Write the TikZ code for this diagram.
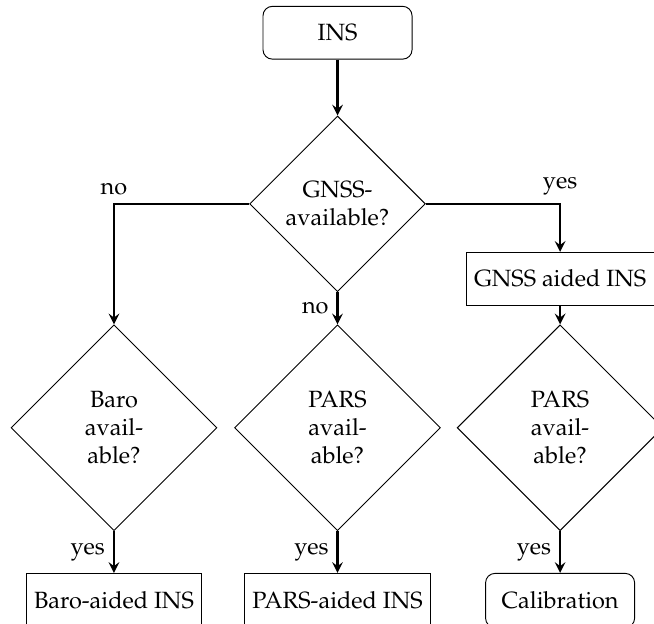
\documentclass[tikz,border=0pt]{standalone}
\usepackage[T1]{fontenc}
\usepackage{mathpazo}
\usetikzlibrary{shapes.geometric}
\begin{document}
\begin{tikzpicture}[
    startstop/.style={draw,rounded corners=4pt,minimum width=2.23cm,minimum height=0.79cm},
    process/.style={draw,minimum height=0.79cm},
    decision/.style={draw,diamond,aspect=1,inner sep=0pt,align=center},
    flow/.style={line width=1pt,-stealth}]
    \useasboundingbox (0,0) rectangle (9.785,-9.335);
    \node[startstop] (ins) at (5.05,-0.49) {INS};
    \node[decision,minimum size=2.63cm] (gnss) at (5.05,-3.05) {GNSS-\\available?};
    \node[process,minimum width=2.76cm] (gnssins) at (8.38,-4.17) {GNSS aided INS};
    \node[decision,minimum size=3.08cm] (baro) at (1.705,-6.40) {Baro\\avail-\\able?};
    \node[decision,minimum size=3.08cm] (pars) at (5.05,-6.40) {PARS\\avail-\\able?};
    \node[decision,minimum size=3.08cm] (parsgnss) at (8.38,-6.40) {PARS\\avail-\\able?};
    \node[process,minimum height=0.81cm,anchor=north] (baroins) at (1.705,-8.572) {Baro-aided INS};
    \node[process,minimum height=0.81cm,anchor=north] (parsins) at (5.05,-8.572) {PARS-aided INS};
    \node[startstop,minimum height=0.81cm,anchor=north] (calib) at (8.38,-8.572) {Calibration};
    \draw[flow] (ins) -- (gnss);
    \draw[flow] (gnss.west) -| node[above] {no} (baro.north);
    \draw[flow] (gnss.east) -| node[above] {yes} (gnssins.north);
    \draw[flow] (gnss.south) -- node[left] {no} (pars.north);
    \draw[flow] (gnssins) -- (parsgnss);
    \draw[flow] (baro.south) -- node[left] {yes} (baroins.north);
    \draw[flow] (pars.south) -- node[left] {yes} (parsins.north);
    \draw[flow] (parsgnss.south) -- node[left] {yes} (calib.north);
\end{tikzpicture}
\end{document}
